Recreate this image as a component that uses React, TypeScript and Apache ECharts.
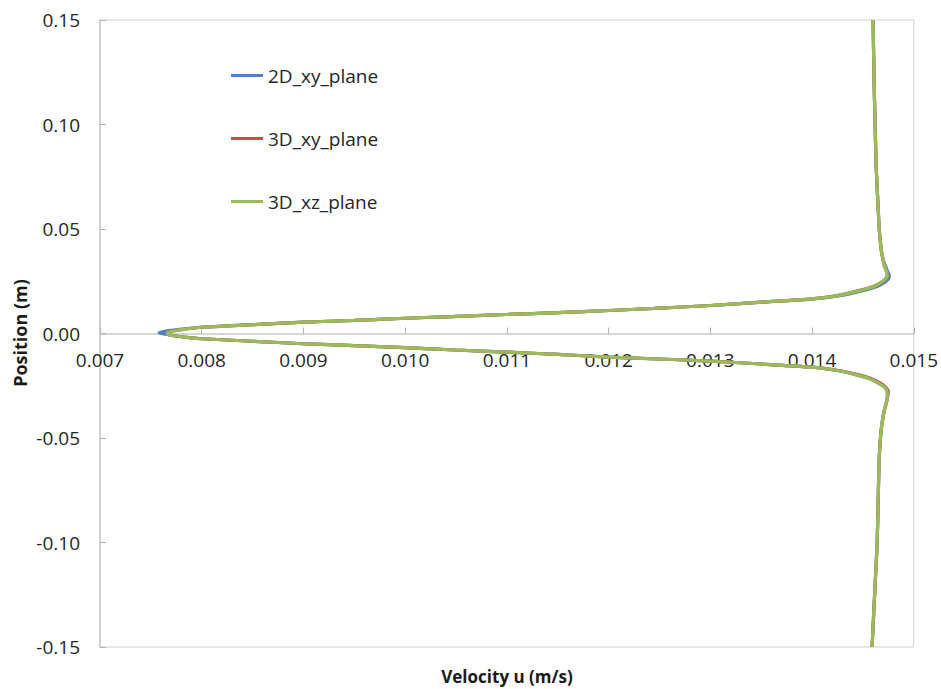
import React, { useEffect, useRef } from "react";
import * as echarts from "echarts";

// Vertical position across the channel (m), top to bottom
const positions = [
  0.15, 0.12, 0.1, 0.08, 0.06, 0.05, 0.045, 0.04, 0.035, 0.0325, 0.03, 0.0277,
  0.026, 0.0238, 0.022, 0.0197, 0.018, 0.0166, 0.015, 0.0134, 0.012, 0.011,
  0.01, 0.0091, 0.008, 0.0073, 0.0063, 0.0054, 0.0042, 0.003, 0.002, 0.0012,
  0.0005, 0, -0.0005, -0.0012, -0.002, -0.0025, -0.0037, -0.0049, -0.0058,
  -0.0068, -0.0079, -0.0089, -0.01, -0.0113, -0.0122, -0.0132, -0.0146,
  -0.0161, -0.0177, -0.0193, -0.0215, -0.024, -0.026, -0.0281, -0.031,
  -0.0368, -0.0461, -0.06, -0.08, -0.1, -0.12, -0.15,
];

// Streamwise velocity u (m/s) at each position
const u2DXy = [
  0.0146, 0.01461, 0.01462, 0.01463, 0.01465, 0.01466, 0.01467, 0.01468,
  0.0147, 0.01472, 0.01474, 0.01476, 0.01475, 0.01469, 0.01461, 0.01443,
  0.01426, 0.01402, 0.01351, 0.013, 0.01245, 0.012, 0.0115, 0.011, 0.0104,
  0.01, 0.0095, 0.009, 0.0085, 0.00798, 0.00778, 0.00765, 0.00758, 0.0076,
  0.00766, 0.00774, 0.00788, 0.008, 0.0085, 0.009, 0.0095, 0.01, 0.0105,
  0.011, 0.0115, 0.012, 0.0125, 0.013, 0.0135, 0.014, 0.01425, 0.0144,
  0.01456, 0.01466, 0.01472, 0.01474, 0.01474, 0.01471, 0.01468, 0.01466,
  0.01465, 0.01464, 0.01462, 0.01459,
];

const u3DXy = [
  0.0146, 0.01461, 0.01462, 0.01463, 0.01465, 0.01466, 0.01467, 0.01468,
  0.0147, 0.01471, 0.01473, 0.01474, 0.01472, 0.01466, 0.01457, 0.01439,
  0.01423, 0.01399, 0.0135, 0.013, 0.01245, 0.012, 0.0115, 0.011, 0.0104,
  0.01, 0.0095, 0.009, 0.0085, 0.008, 0.00782, 0.00772, 0.00767, 0.00766,
  0.00767, 0.00774, 0.00788, 0.008, 0.0085, 0.009, 0.0095, 0.01, 0.0105,
  0.011, 0.0115, 0.012, 0.0125, 0.013, 0.0135, 0.014, 0.01426, 0.01442,
  0.01458, 0.01468, 0.01473, 0.01475, 0.01474, 0.01471, 0.01468, 0.01466,
  0.01465, 0.01464, 0.01462, 0.01459,
];

const u3DXz = [
  0.0146, 0.01461, 0.01462, 0.01463, 0.01465, 0.01466, 0.01467, 0.01468,
  0.0147, 0.01471, 0.01473, 0.01474, 0.01472, 0.01466, 0.01458, 0.0144,
  0.01424, 0.014, 0.0135, 0.013, 0.01245, 0.012, 0.0115, 0.011, 0.0104, 0.01,
  0.0095, 0.009, 0.0085, 0.008, 0.00782, 0.00772, 0.00767, 0.00766, 0.00767,
  0.00774, 0.00788, 0.008, 0.0085, 0.009, 0.0095, 0.01, 0.0105, 0.011, 0.0115,
  0.012, 0.0125, 0.013, 0.0135, 0.014, 0.01425, 0.0144, 0.01456, 0.01466,
  0.01472, 0.01474, 0.01474, 0.01471, 0.01468, 0.01466, 0.01465, 0.01464,
  0.01462, 0.01459,
];

const seriesNames = ["2D_xy_plane", "3D_xy_plane", "3D_xz_plane"];
const seriesColors = ["#4F81BD", "#C0504D", "#9BBB59"];

const FONT = "'Open Sans', 'Liberation Sans', sans-serif";

// Plot rectangle inside the 941x689 canvas
const GRID = { left: 100, right: 26, top: 20, bottom: 42 };
const CANVAS_H = 689;

export default function App() {
  const ref = useRef<HTMLDivElement>(null);

  useEffect(() => {
    if (!ref.current) return;
    const chart = echarts.init(ref.current, undefined, { renderer: "svg" });

    const yMin = -0.15;
    const yMax = 0.15;
    // lift the x axis (line, ticks and labels) up to position = 0
    const plotH = CANVAS_H - GRID.top - GRID.bottom;
    const zeroLift = (plotH * (0 - yMin)) / (yMax - yMin);

    const profiles = [u2DXy, u3DXy, u3DXz];
    const series = profiles.map((vals, i) => ({
      name: seriesNames[i],
      type: "line",
      data: vals.map((v, k) => [v, positions[k]]),
      showSymbol: false,
      symbol: "none",
      smooth: 0.2,
      lineStyle: { color: seriesColors[i], width: 3.2 },
      itemStyle: { color: seriesColors[i] },
      z: 2 + i,
    }));

    chart.setOption({
      animation: false,
      backgroundColor: "#ffffff",
      textStyle: { fontFamily: FONT },
      grid: {
        ...GRID,
        show: true,
        borderColor: "#D0D0D0",
        borderWidth: 1,
      },
      legend: {
        orient: "vertical",
        left: 231,
        top: 66,
        padding: 0,
        itemWidth: 32,
        itemHeight: 3,
        itemGap: 44,
        icon: "rect",
        data: seriesNames,
        textStyle: { fontSize: 19, color: "#262626", fontFamily: FONT },
      },
      xAxis: {
        type: "value",
        min: 0.007,
        max: 0.015,
        interval: 0.001,
        offset: -zeroLift,
        axisLine: { onZero: false, lineStyle: { color: "#C8C8C8", width: 1.5 } },
        axisTick: { show: true, inside: true, length: 6, lineStyle: { color: "#B0B0B0" } },
        splitLine: { show: false },
        axisLabel: {
          margin: 17,
          fontSize: 19,
          color: "#262626",
          fontFamily: FONT,
          formatter: (v: number) => v.toFixed(3),
        },
      },
      yAxis: {
        type: "value",
        min: yMin,
        max: yMax,
        interval: 0.05,
        axisLine: { show: true, lineStyle: { color: "#C8C8C8", width: 1.5 } },
        axisTick: { show: true, inside: true, length: 6, lineStyle: { color: "#B0B0B0" } },
        splitLine: { show: false },
        axisLabel: {
          margin: 20,
          fontSize: 19,
          color: "#262626",
          fontFamily: FONT,
          formatter: (v: number) => v.toFixed(2),
        },
      },
      graphic: [
        {
          type: "text",
          x: 20,
          y: 333,
          rotation: Math.PI / 2,
          style: {
            text: "Position (m)",
            fontSize: 18,
            fontWeight: "bold",
            fontFamily: FONT,
            fill: "#1a1a1a",
            textAlign: "center",
            textVerticalAlign: "middle",
          },
        },
        {
          type: "text",
          x: 507,
          y: 676,
          style: {
            text: "Velocity u (m/s)",
            fontSize: 17,
            fontWeight: "bold",
            fontFamily: FONT,
            fill: "#1a1a1a",
            textAlign: "center",
            textVerticalAlign: "middle",
          },
        },
      ],
      series,
    });

    return () => chart.dispose();
  }, []);

  return (
    <div
      ref={ref}
      style={{ position: "fixed", left: 0, top: 0, width: 941, height: 689 }}
    />
  );
}
